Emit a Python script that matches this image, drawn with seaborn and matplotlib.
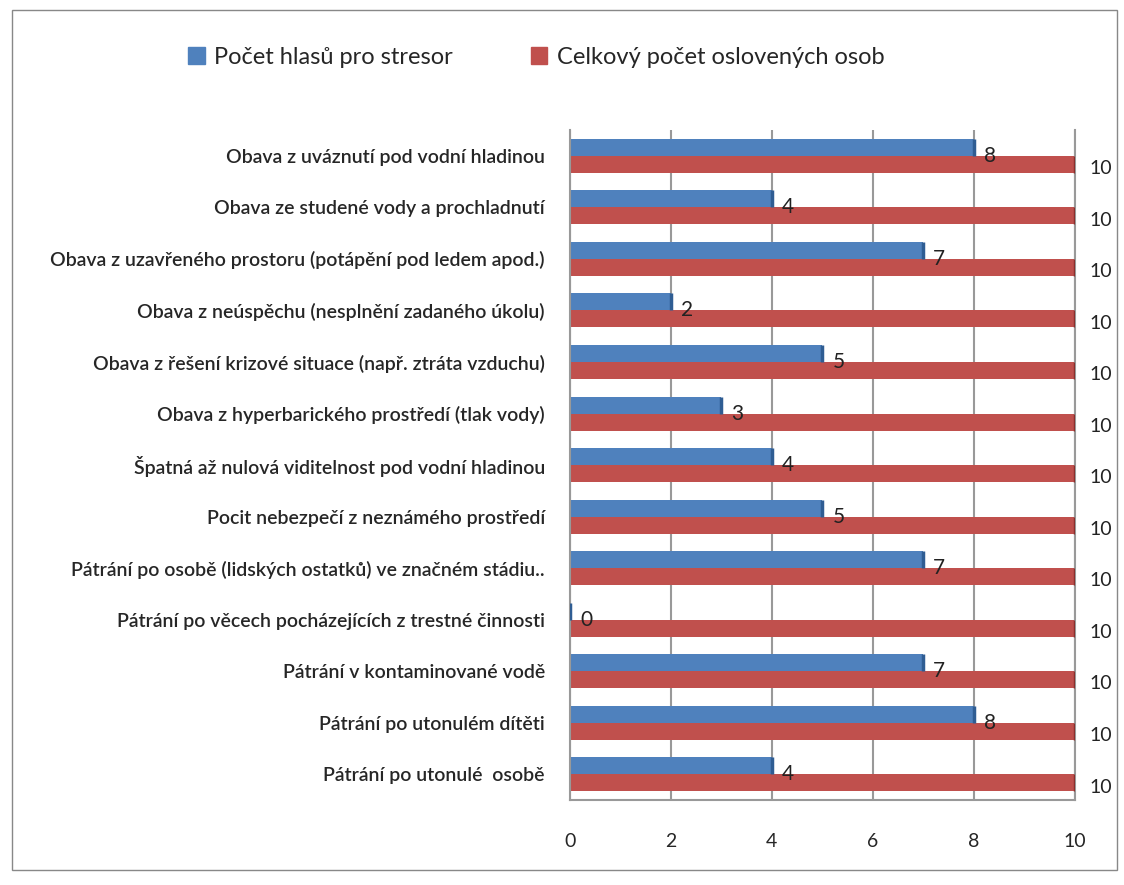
import pandas as pd
import matplotlib.pyplot as plt
import seaborn as sns
from matplotlib.patches import Rectangle
from matplotlib.ticker import FixedLocator

# Data
stresory = [
    "Obava z uváznutí pod vodní hladinou",
    "Obava ze studené vody a prochladnutí",
    "Obava z uzavřeného prostoru (potápění pod ledem apod.)",
    "Obava z neúspěchu (nesplnění zadaného úkolu)",
    "Obava z řešení krizové situace (např. ztráta vzduchu)",
    "Obava z hyperbarického prostředí (tlak vody)",
    "Špatná až nulová viditelnost pod vodní hladinou",
    "Pocit nebezpečí z neznámého prostředí",
    "Pátrání po osobě (lidských ostatků) ve značném stádiu..",
    "Pátrání po věcech pocházejících z trestné činnosti",
    "Pátrání v kontaminované vodě",
    "Pátrání po utonulém dítěti",
    "Pátrání po utonulé  osobě",
]
hlasy = [8, 4, 7, 2, 5, 3, 4, 5, 7, 0, 7, 8, 4]
celkem = [10] * 13
serie = ["Počet hlasů pro stresor", "Celkový počet oslovených osob"]
barvy = ["#4F81BD", "#C0504D"]

df = pd.DataFrame({
    "stresor": stresory * 2,
    "pocet": hlasy + celkem,
    "serie": [serie[0]] * 13 + [serie[1]] * 13,
})

sns.set_style("white")
plt.rcParams["font.family"] = ["Lato", "DejaVu Sans"]

fig = plt.figure(figsize=(11.24, 8.85), dpi=100)
ax = fig.add_axes([0.507, 0.096, 0.449, 0.757])

sns.barplot(data=df, y="stresor", x="pocet", hue="serie", orient="h",
            palette=barvy, width=0.66, ax=ax, legend=False,
            edgecolor="none", saturation=1)

# darker right edge to imitate the 3D look
for cont, col in zip(ax.containers, ["#2f5d93", "#8c2e2c"]):
    for p in cont:
        x = p.get_x() + p.get_width()
        ax.plot([x, x], [p.get_y(), p.get_y() + p.get_height()],
                color=col, lw=2.5, solid_capstyle="butt", zorder=3)

# value labels
for p, v in zip(ax.containers[0], hlasy):
    ax.text(p.get_width() + 0.2, p.get_y() + p.get_height() * 1.0, str(v),
            va="center", ha="left", fontsize=15, color="#222222")
for p, v in zip(ax.containers[1], celkem):
    ax.text(10.3, p.get_y() + p.get_height() * 0.75, str(v),
            va="center", ha="left", fontsize=14, color="#222222",
            clip_on=False)

ax.set_xlim(0, 10)
ax.set_ylim(12.5, -0.5)
ax.set_xticks([0, 2, 4, 6, 8, 10])
ax.set_xlabel("")
ax.set_ylabel("")
ax.tick_params(axis="x", labelsize=14, length=6, color="#888888", pad=18)
ax.tick_params(axis="y", labelsize=14, length=0, pad=18)
for lab in ax.get_yticklabels():
    lab.set_fontweight("semibold")
ax.yaxis.set_minor_locator(FixedLocator([i - 0.5 for i in range(14)]))
ax.tick_params(axis="y", which="minor", length=6, color="#888888")
ax.grid(axis="x", color="#999999", lw=1.5)
ax.set_axisbelow(True)
for s in ["left", "bottom", "right"]:
    ax.spines[s].set_color("#999999")
    ax.spines[s].set_linewidth(1.5)
ax.spines["top"].set_visible(False)

handles = [Rectangle((0, 0), 1, 1, color=c) for c in barvy]
fig.legend(handles, serie, loc="center", bbox_to_anchor=(0.477, 0.935),
           ncol=2, frameon=False, fontsize=17, handlelength=0.7,
           handleheight=0.7, handletextpad=0.4, columnspacing=3.3)

fig.patches.append(Rectangle((0.011, 0.017), 0.983, 0.972, transform=fig.transFigure,
                             fill=False, edgecolor="#888888", lw=1))

fig.savefig("out.png", dpi=100)
